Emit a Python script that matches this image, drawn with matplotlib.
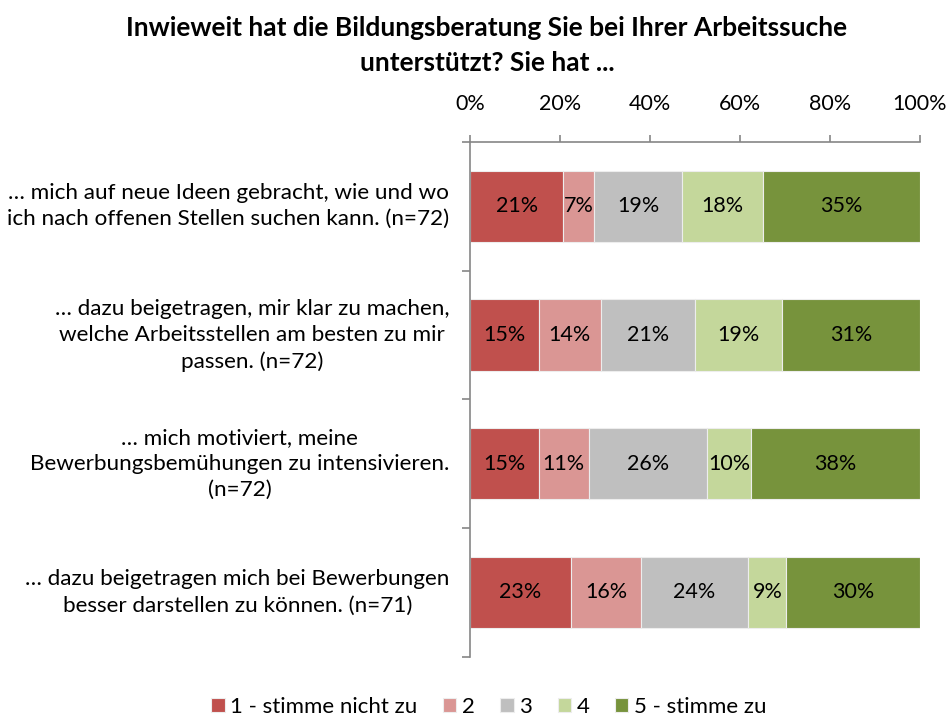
import matplotlib.pyplot as plt
from matplotlib.transforms import blended_transform_factory
import numpy as np

# Statements (top to bottom) and share per answer category in %
statements = [
    "… mich auf neue Ideen gebracht, wie und wo\nich nach offenen Stellen suchen kann. (n=72)",
    "… dazu beigetragen, mir klar zu machen,\nwelche Arbeitsstellen am besten zu mir\npassen. (n=72)",
    "… mich motiviert, meine\nBewerbungsbemühungen zu intensivieren.\n(n=72)",
    "… dazu beigetragen mich bei Bewerbungen\nbesser darstellen zu können. (n=71)",
]
legend_labels = ["1 - stimme nicht zu", "2", "3", "4", "5 - stimme zu"]

score1 = [20.8, 15.3, 15.3, 22.5]
score2 = [6.9, 13.9, 11.1, 15.5]
score3 = [19.4, 20.8, 26.4, 23.9]
score4 = [18.1, 19.4, 9.7, 8.5]
score5 = [34.8, 30.6, 37.5, 29.6]
series = [score1, score2, score3, score4, score5]
shown = [
    ["21%", "15%", "15%", "23%"],
    ["7%", "14%", "11%", "16%"],
    ["19%", "21%", "26%", "24%"],
    ["18%", "19%", "10%", "9%"],
    ["35%", "31%", "38%", "30%"],
]

colors = ["#C0504D", "#DA9694", "#BFBFBF", "#C4D79B", "#77933C"]

plt.rcParams['font.family'] = ['Lato', 'DejaVu Sans']
plt.rcParams['text.color'] = '#000000'

fig = plt.figure(figsize=(9.53, 7.17), dpi=100)
ax = fig.add_axes([0.493, 0.084, 0.472, 0.718])

y = np.arange(len(statements))
left = np.zeros(len(statements))
for vals, lbls, col, name in zip(series, shown, colors, legend_labels):
    vals = np.array(vals)
    ax.barh(y, vals, height=0.555, left=left, color=col, edgecolor='#EDEDED',
            linewidth=0.8, label=name)
    for yi, (l, v, t) in enumerate(zip(left, vals, lbls)):
        ax.text(l + v / 2, yi, t, ha='center', va='center', fontsize=15.5)
    left = left + vals

ax.set_xlim(0, 100)
ax.set_ylim(len(statements) - 0.5, -0.5)

# x axis on top
ax.xaxis.tick_top()
ax.set_xticks(np.arange(0, 101, 20))
ax.set_xticklabels([f"{v}%" for v in range(0, 101, 20)], fontsize=15.5)
ax.tick_params(axis='x', direction='out', length=5, width=1.2, color='#868686', pad=15)

# y ticks at category boundaries, labels as text
ax.set_yticks(np.arange(-0.5, len(statements), 1))
ax.set_yticklabels([])
ax.tick_params(axis='y', direction='out', length=6, width=1.2, color='#868686')

trans = blended_transform_factory(ax.transAxes, ax.transData)
for yi, s in enumerate(statements):
    ax.text(-0.045, yi, s, transform=trans, ha='right', va='center',
            multialignment='center', fontsize=16.2, linespacing=1.38)

for sp in ['bottom', 'right']:
    ax.spines[sp].set_visible(False)
for sp in ['top', 'left']:
    ax.spines[sp].set_color('#868686')
    ax.spines[sp].set_linewidth(1.2)

fig.text(0.511, 0.977, "Inwieweit hat die Bildungsberatung Sie bei Ihrer Arbeitssuche\nunterstützt? Sie hat ...",
         ha='center', va='top', fontsize=19, fontweight='bold', linespacing=1.55)

fig.legend(loc='lower center', bbox_to_anchor=(0.513, -0.028), ncol=5, frameon=False,
           fontsize=16, handlelength=0.6, handleheight=0.6, handletextpad=0.25,
           columnspacing=1.15)

plt.savefig("out.png", dpi=100)
plt.close()
